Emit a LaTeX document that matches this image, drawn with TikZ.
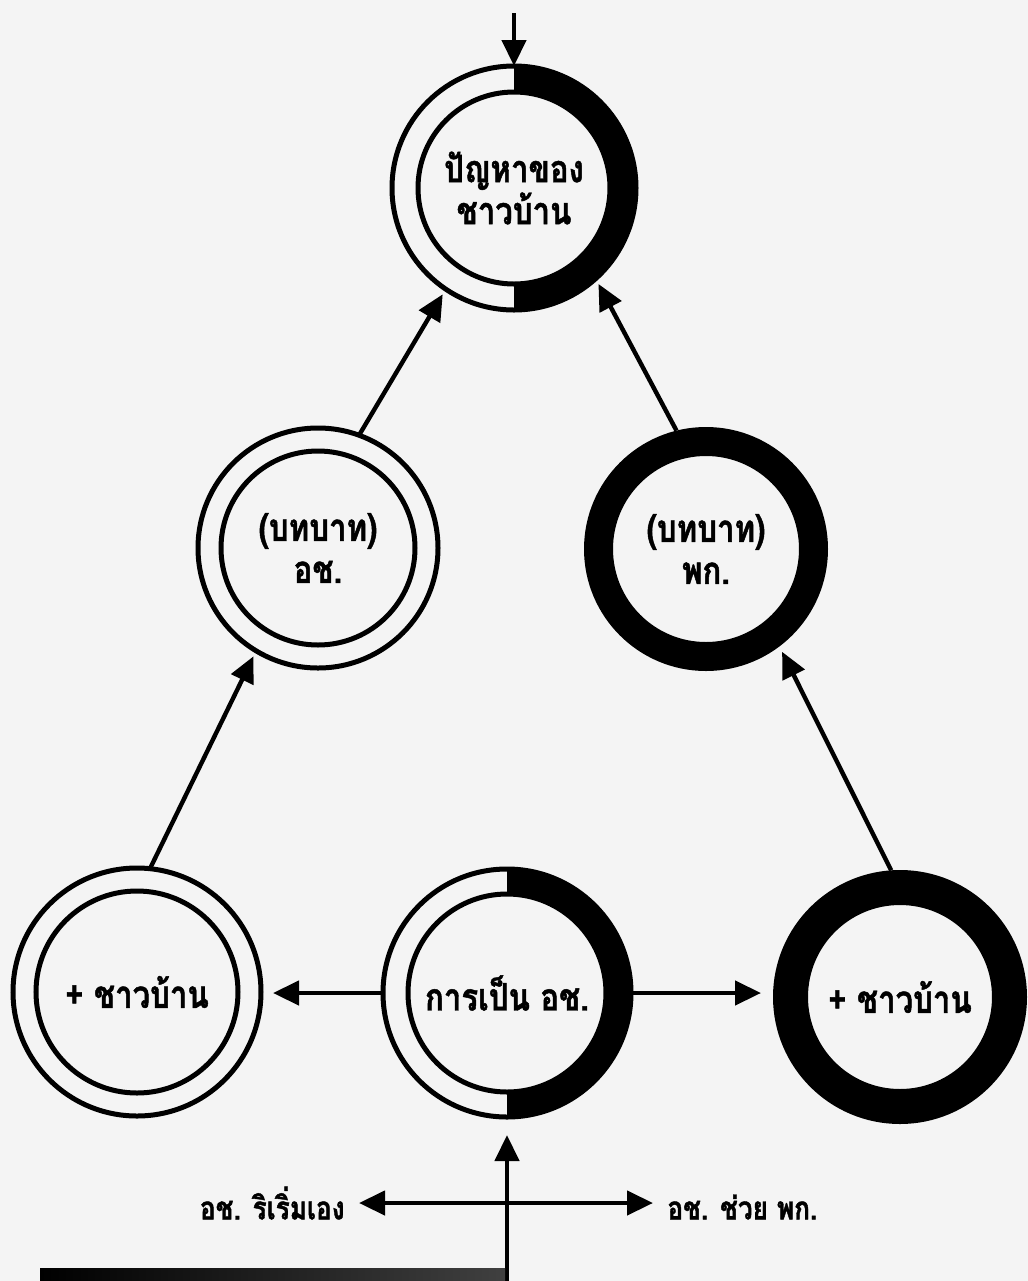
\documentclass[tikz,border=0pt]{standalone}
\usepackage{fontspec}
\newfontfamily\thai[Script=Thai, FakeStretch=0.82, BoldFeatures={FakeBold=1.2}]{Loma}
\usetikzlibrary{arrows.meta}
\definecolor{bgc}{RGB}{244,244,244}
\tikzset{
  ringnode/.style={circle, inner sep=0pt, outer sep=0pt, minimum size=#1, align=center,
     font=\thai\bfseries\fontsize{19}{21}\selectfont},
  edge/.style={line width=2.5pt},
  arr/.style={line width=2.2pt, -{Triangle[length=13pt,width=12pt]}},
  darr/.style={line width=2.2pt, {Triangle[length=13pt,width=12pt]}-{Triangle[length=13pt,width=12pt]}},
  lbl/.style={font=\thai\bfseries\fontsize{16}{18}\selectfont, inner sep=0pt}
}
\newcommand{\halfring}[4]{% cx cy R r
  \fill[black] (#1,#2-#3) arc[start angle=-90,end angle=90,radius=#3] -- (#1,#2+#4)
     arc[start angle=90,end angle=-90,radius=#4] -- cycle;
  \draw[edge] (#1,#2) circle[radius=#3];
  \draw[edge] (#1,#2) circle[radius=#4];}
\newcommand{\dblring}[4]{%
  \draw[edge] (#1,#2) circle[radius=#3];
  \draw[edge] (#1,#2) circle[radius=#4];}
\newcommand{\blkring}[4]{%
  \draw[line width=#3*0.5pt-#4*0.5pt] (#1,#2) circle[radius=#3/2+#4/2];}
\begin{document}
\begin{tikzpicture}[x=0.5pt,y=-0.5pt]
\fill[bgc] (0,0) rectangle (1028,1281);
\useasboundingbox (0,0) rectangle (1028,1281);
% rings
\halfring{514}{188}{122}{96}
\dblring{318}{548}{120}{97}
\blkring{706}{549}{122}{93}
\dblring{137}{992}{124}{101}
\halfring{507}{993}{124}{99}
\blkring{900}{997}{127}{92}
% nodes
\node[ringnode=122pt] (c1) at (514,188) {ปัญหาของ\\ชาวบ้าน};
\node[ringnode=120pt] (c2) at (318,548) {(บทบาท)\\อช.};
\node[ringnode=122pt] (c3) at (706,549) {(บทบาท)\\พก.};
\node[ringnode=124pt] (c4) at (137,992) {+ ชาวบ้าน};
\node[ringnode=124pt] (c5) at (507,993) {การเป็น อช.};
\node[ringnode=127pt] (c6) at (900,997) {+ ชาวบ้าน};
% connectors
\coordinate (top) at (514,13);
\draw[arr] (top) -- (c1.north);
\draw[arr, shorten >=3pt] (c4.84) -- (c2.239);
\draw[arr, shorten >=3pt] (c2.70) -- (c1.236);
\draw[arr, shorten >=3pt] (c6.94) -- (c3.307);
\draw[arr, shorten >=3pt] (c3.104) -- (c1.312);
\draw[arr, shorten >=6pt] (c5.west) -- (c5.west -| c4.east);
\draw[arr, shorten >=6pt] (c5.east) -- (c5.east -| c6.west);
\coordinate (bot) at (507,1281);
\draw[arr, shorten >=9pt] (bot) -- (c5.south);
% bottom labels
\node[lbl, anchor=east] (l1) at (345,1203) {อช. ริเริ่มเอง};
\node[lbl, anchor=west] (l2) at (667,1207) {อช. ช่วย พก.};
\draw[darr, shorten <=7pt, shorten >=7pt] (l1.east |- 0,1203) -- (l2.west |- 0,1203);
% cut-off bar at bottom
\shade[left color=black, right color=black!75] (40,1268) rectangle (505,1281);
\end{tikzpicture}
\end{document}
